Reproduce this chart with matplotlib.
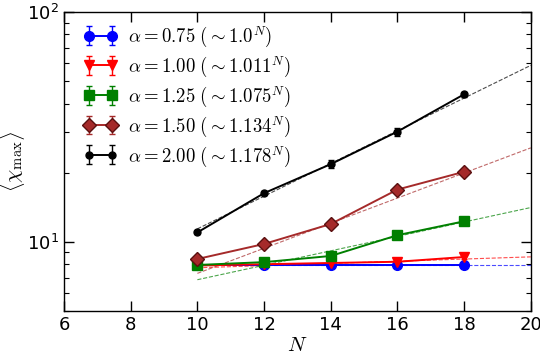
import numpy as np
import matplotlib
matplotlib.use("Agg")
import matplotlib.pyplot as plt

N = np.array([10, 12, 14, 16, 18])
alphas = ["0.75", "1.00", "1.25", "1.50", "2.00"]
bases = ["1.0", "1.011", "1.075", "1.134", "1.178"]
base_vals = [1.0, 1.011, 1.075, 1.134, 1.178]
chi = [
    [7.96, 7.96, 7.96, 7.96, 7.96],
    [7.9, 8.0, 8.1, 8.2, 8.6],
    [7.94, 8.17, 8.69, 10.7, 12.3],
    [8.43, 9.8, 11.97, 16.9, 20.2],
    [11.0, 16.3, 21.8, 30.2, 43.9],
]
err = [
    [0.12, 0.12, 0.12, 0.12, 0.12],
    [0.15, 0.15, 0.15, 0.15, 0.2],
    [0.15, 0.15, 0.2, 0.25, 0.3],
    [0.15, 0.2, 0.25, 0.4, 0.5],
    [0.2, 0.35, 0.9, 1.2, 1.0],
]
fit_at10 = [7.96, 7.72, 6.85, 7.3, 11.4]
fit_N = np.array([10, 20])

colors = ["#0000ff", "#ff0000", "#008000", "#a52a2a", "#000000"]
markers = ["o", "v", "s", "D", "o"]
msizes = [7, 7, 7, 7, 5]

plt.rcParams["mathtext.fontset"] = "dejavusans"
fig = plt.figure(figsize=(5.4, 3.56), dpi=100)
ax = fig.add_axes([0.1185, 0.126, 0.8645, 0.84])

for i in range(5):
    ax.errorbar(N, chi[i], yerr=err[i], color=colors[i], marker=markers[i],
                ms=msizes[i], mec=colors[i] if i != 3 else "#5a1010",
                lw=1.4, capsize=2.5, elinewidth=1.0,
                label=r"$\alpha = %s\ (\sim %s^N)$" % (alphas[i], bases[i]))
    fit = fit_at10[i] * base_vals[i] ** (fit_N - 10)
    ax.plot(fit_N, fit, ls="--", color=colors[i], lw=0.8, alpha=0.7)

ax.set_yscale("log")
ax.set_xlim(6, 20)
ax.set_ylim(5, 100)
ax.set_xticks([6, 8, 10, 12, 14, 16, 18, 20])
ax.tick_params(which="both", direction="in", top=True, right=True, labelsize=13)
ax.tick_params(which="major", length=7, width=1)
ax.tick_params(which="minor", length=3.5, width=0.8)
for s in ax.spines.values():
    s.set_linewidth(1.0)

xl = ax.set_xlabel(r"$N$", fontsize=15, labelpad=1)
yl = ax.set_ylabel(r"$\langle \chi_{\max} \rangle$", fontsize=15, labelpad=0)
xl.set_math_fontfamily("cm")
yl.set_math_fontfamily("cm")

leg = ax.legend(loc="upper left", bbox_to_anchor=(0.0255, 0.982), frameon=False,
                numpoints=2, fontsize=13.5, handlelength=1.8, handletextpad=0.6,
                labelspacing=0.28, borderaxespad=0.0)
for t in leg.get_texts():
    t.set_math_fontfamily("cm")

fig.savefig("out.png", dpi=100)
